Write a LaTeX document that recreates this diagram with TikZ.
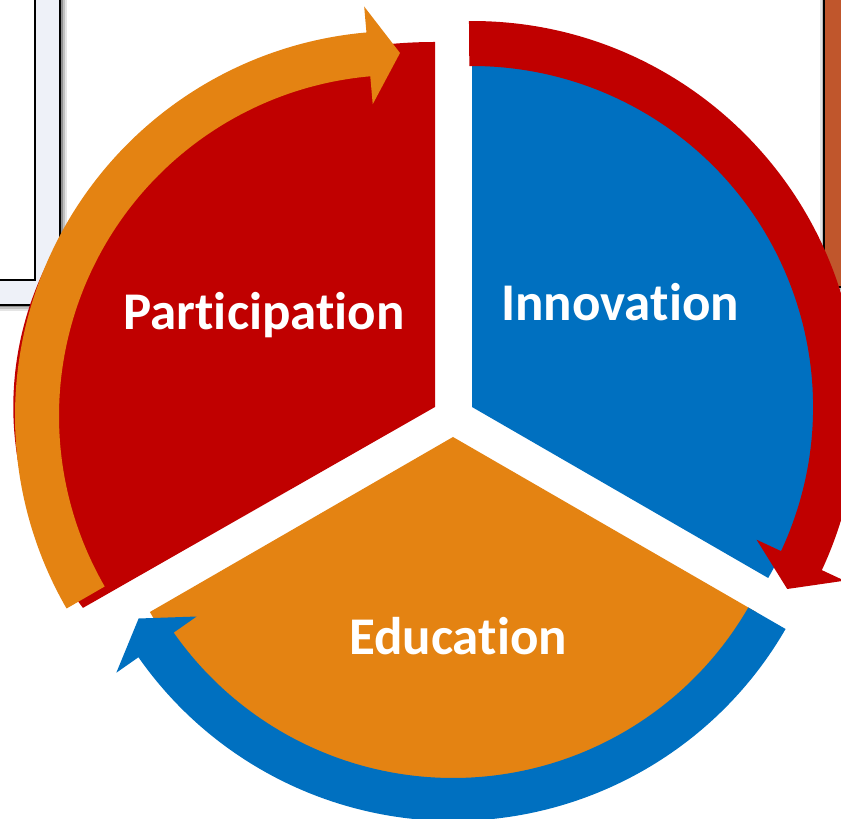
\documentclass[tikz,border=0pt]{standalone}
\usepackage{fontspec}
\setmainfont{Carlito}[Ligatures=NoCommon]
\usetikzlibrary{calc}
\definecolor{cred}{HTML}{C00000}
\definecolor{cblue}{HTML}{0070C0}
\definecolor{corange}{HTML}{E48312}
\definecolor{cbrown}{HTML}{C0562C}
\definecolor{cpale}{HTML}{EEF1F8}
\tikzset{
  label text/.style={text=white, font=\bfseries\fontsize{53}{60}\selectfont, anchor=base, inner sep=0pt},
  boxline/.style={draw=black, line width=2pt},
}
\begin{document}
\begin{tikzpicture}[x=1pt,y=1pt]
\useasboundingbox (0,0) rectangle (841,819);
\clip (0,0) rectangle (841,819);
\fill[white] (0,0) rectangle (841,819);

% centres
\coordinate (RA) at (435,412);   % red segment apex
\coordinate (BA) at (472,412);   % blue segment apex / red arrow centre
\coordinate (OA) at (453,382);   % orange segment apex / blue arrow centre
\coordinate (OC) at (400,403);   % orange arrow centre

% left box (shadow, frame)
\fill[black,opacity=0.10] (-5,508) rectangle (67,830);
\fill[black,opacity=0.15] (-5,510) rectangle (65,830);
\fill[black,opacity=0.25] (-5,512) rectangle (63,830);
\fill[cpale,boxline] (-5,514) rectangle (60,830);
\fill[white,boxline] (-5,539) rectangle (35,830);

% right box
\fill[black,opacity=0.10] (820,526) rectangle (850,830);
\fill[black,opacity=0.18] (822,529) rectangle (850,830);
\fill[cbrown,boxline] (824,532) rectangle (850,830);

% segments
\fill[cred] (RA) -- ++(0,365pt)
  arc[start angle=90, end angle=213.4, x radius=421.7pt, y radius=365pt] -- cycle;
\fill[cblue] (BA) -- ($(BA)+(90:342pt)$)
  arc[start angle=90, end angle=-30, radius=342pt] -- cycle;
\fill[corange] (OA) -- ($(OA)+(210:350pt)$)
  arc[start angle=210, end angle=330, radius=350pt] -- cycle;

% circular arrows
\fill[corange] ($(OC)+(210:385pt)$) arc[start angle=210, end angle=95, radius=385pt]
  -- ($(OC)+(95:411pt)$) -- ($(OC)+(90:363pt)$) -- ($(OC)+(95:313pt)$)
  -- ($(OC)+(95:341pt)$) arc[start angle=95, end angle=210, radius=341pt] -- cycle;
\fill[cred] ($(BA)+(90.45:386pt)$) arc[start angle=90.45, end angle=-25, radius=386pt]
  -- ($(BA)+(-25:411pt)$) -- ($(BA)+(-30:364pt)$) -- ($(BA)+(-25:314pt)$)
  -- ($(BA)+(-25:341pt)$) arc[start angle=-25, end angle=90.45, radius=341pt] -- cycle;
\fill[cblue] ($(OA)+(-30:384pt)$) arc[start angle=-30, end angle=-145, radius=384pt]
  -- ($(OA)+(-145:411pt)$) -- ($(OA)+(-150:363pt)$) -- ($(OA)+(-145:313pt)$)
  -- ($(OA)+(-145:341pt)$) arc[start angle=-145, end angle=-30, radius=341pt] -- cycle;

% labels
\node[label text] (tpart) at (264,489) {Participation};
\node[label text] (tinno) at (620,498) {Innovation};
\node[label text] (tedu) at (458,164) {Education};
\end{tikzpicture}
\end{document}
